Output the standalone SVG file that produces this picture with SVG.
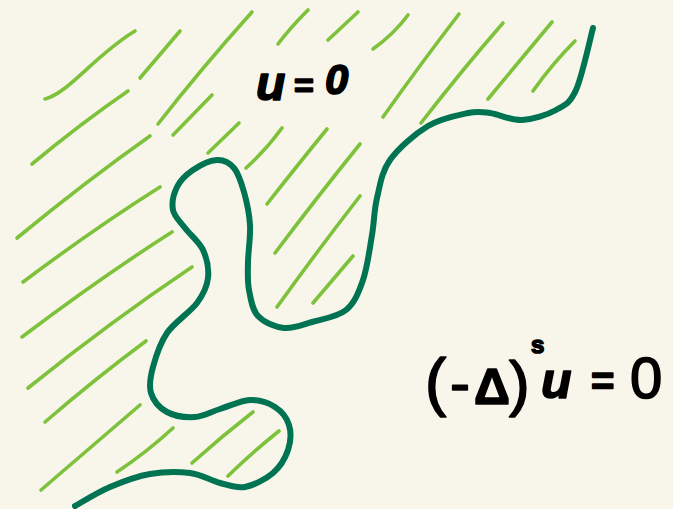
<svg xmlns="http://www.w3.org/2000/svg" width="673" height="509" viewBox="0 0 673 509">
<style>
.h{fill:none;stroke:#7EC23B;stroke-width:3.6;stroke-linecap:round;stroke-linejoin:round}
.b{fill:none;stroke:#007352;stroke-width:6;stroke-linecap:round;stroke-linejoin:round}
.t{font-family:"Liberation Sans","DejaVu Sans",sans-serif;font-weight:bold;fill:#000;stroke:#000;stroke-width:1.6;stroke-linejoin:round}
</style>
<rect width="673" height="509" fill="#F8F6EA"/>
<g id="hatching">
<path class="h" d="M45,99 C70,92 95,55 135,31"/>
<path class="h" d="M140,78 L180,31"/>
<path class="h" d="M158,124 Q200,70 252,12"/>
<path class="h" d="M278,44 Q290,28 308,10"/>
<path class="h" d="M328,40 L358,12"/>
<path class="h" d="M32,164 Q80,124 128,91"/>
<path class="h" d="M173,135 L212,95"/>
<path class="h" d="M208,153 L239,123"/>
<path class="h" d="M17,238 Q85,182 150,136"/>
<path class="h" d="M246,168 Q266,150 282,128"/>
<path class="h" d="M267,204 Q300,162 327,129"/>
<path class="h" d="M23,282 Q95,228 160,187"/>
<path class="h" d="M22,337 Q100,278 172,232"/>
<path class="h" d="M275,253 Q318,196 360,144"/>
<path class="h" d="M277,307 Q318,250 360,196"/>
<path class="h" d="M313,303 L353,256"/>
<path class="h" d="M383,117 Q422,62 459,14"/>
<path class="h" d="M28,388 Q110,322 192,267"/>
<path class="h" d="M373,49 Q394,34 408,15"/>
<path class="h" d="M421,123 Q462,70 503,23"/>
<path class="h" d="M488,99 Q522,58 552,22"/>
<path class="h" d="M533,91 Q552,64 575,41"/>
<path class="h" d="M45,422 Q96,378 146,341"/>
<path class="h" d="M41,490 Q92,446 140,405"/>
<path class="h" d="M117,472 Q147,452 173,428"/>
<path class="h" d="M192,463 Q222,436 253,412"/>
<path class="h" d="M228,476 Q255,450 279,431"/>
</g>
<g id="boundary">
<path class="b" d="M75,506 C80.8,502.8 97.5,492.3 110,487 C122.5,481.7 136.7,476.3 150,474 C163.3,471.7 178.3,471.5 190,473 C201.7,474.5 210.8,480.7 220,483 C229.2,485.3 236.2,488.7 245,487 C253.8,485.3 265.8,479.2 273,473 C280.2,466.8 285.3,458 288,450 C290.7,442 291.2,432.2 289,425 C286.8,417.8 281.5,411.2 275,407 C268.5,402.8 259.2,399.7 250,400 C240.8,400.3 229.2,406.2 220,409 C210.8,411.8 203.8,416.5 195,417 C186.2,417.5 174.3,416 167,412 C159.7,408 153.3,400.5 151,393 C148.7,385.5 150.3,377 153,367 C155.7,357 159.7,343.7 167,333 C174.3,322.3 190.2,312.2 197,303 C203.8,293.8 207,286.8 208,278 C209,269.2 206.8,258.3 203,250 C199.2,241.7 190,234.7 185,228 C180,221.3 174.3,216.8 173,210 C171.7,203.2 173.7,193.7 177,187 C180.3,180.3 186.3,174.5 193,170 C199.7,165.5 210.2,160.3 217,160 C223.8,159.7 229.5,162.7 234,168 C238.5,173.3 241.3,182.5 244,192 C246.7,201.5 249.3,213.3 250,225 C250.7,236.7 248.2,251.2 248,262 C247.8,272.8 247.3,281 249,290 C250.7,299 252.2,309.7 258,316 C263.8,322.3 275,327 284,328 C293,329 301.7,325 312,322 C322.3,319 337.5,317 346,310 C354.5,303 358.7,292.5 363,280 C367.3,267.5 369.7,248.7 372,235 C374.3,221.3 374,210.5 377,198 C380,185.5 381.5,172 390,160 C398.5,148 415,133.8 428,126 C441,118.2 457.7,115.2 468,113 C478.3,110.8 481,111.8 490,113 C499,114.2 511,120.5 522,120 C533,119.5 547,115 556,110 C565,105 569.8,103.7 576,90 C582.2,76.3 590.2,38.3 593,28"/>
</g>
<g id="labels">
<text class="t" y="100"><tspan x="256" font-size="48" font-style="italic">u</tspan><tspan x="294" y="97" font-size="34">=</tspan><tspan x="325" y="94" font-size="42" font-style="italic">0</tspan></text>
<text class="t"><tspan x="425" y="404" font-size="64" font-weight="normal">(</tspan><tspan x="450" y="403" font-size="60" font-weight="normal">-</tspan><tspan x="474" y="404" font-size="50">Δ</tspan><tspan x="509" y="404" font-size="62" font-weight="normal">)</tspan><tspan x="531" y="353" font-size="24">s</tspan><tspan x="541" y="398" font-size="50" font-style="italic">u</tspan><tspan x="591" y="395" font-size="40">=</tspan><tspan x="630" y="398" font-size="58" font-weight="normal">0</tspan></text>
</g>
</svg>
